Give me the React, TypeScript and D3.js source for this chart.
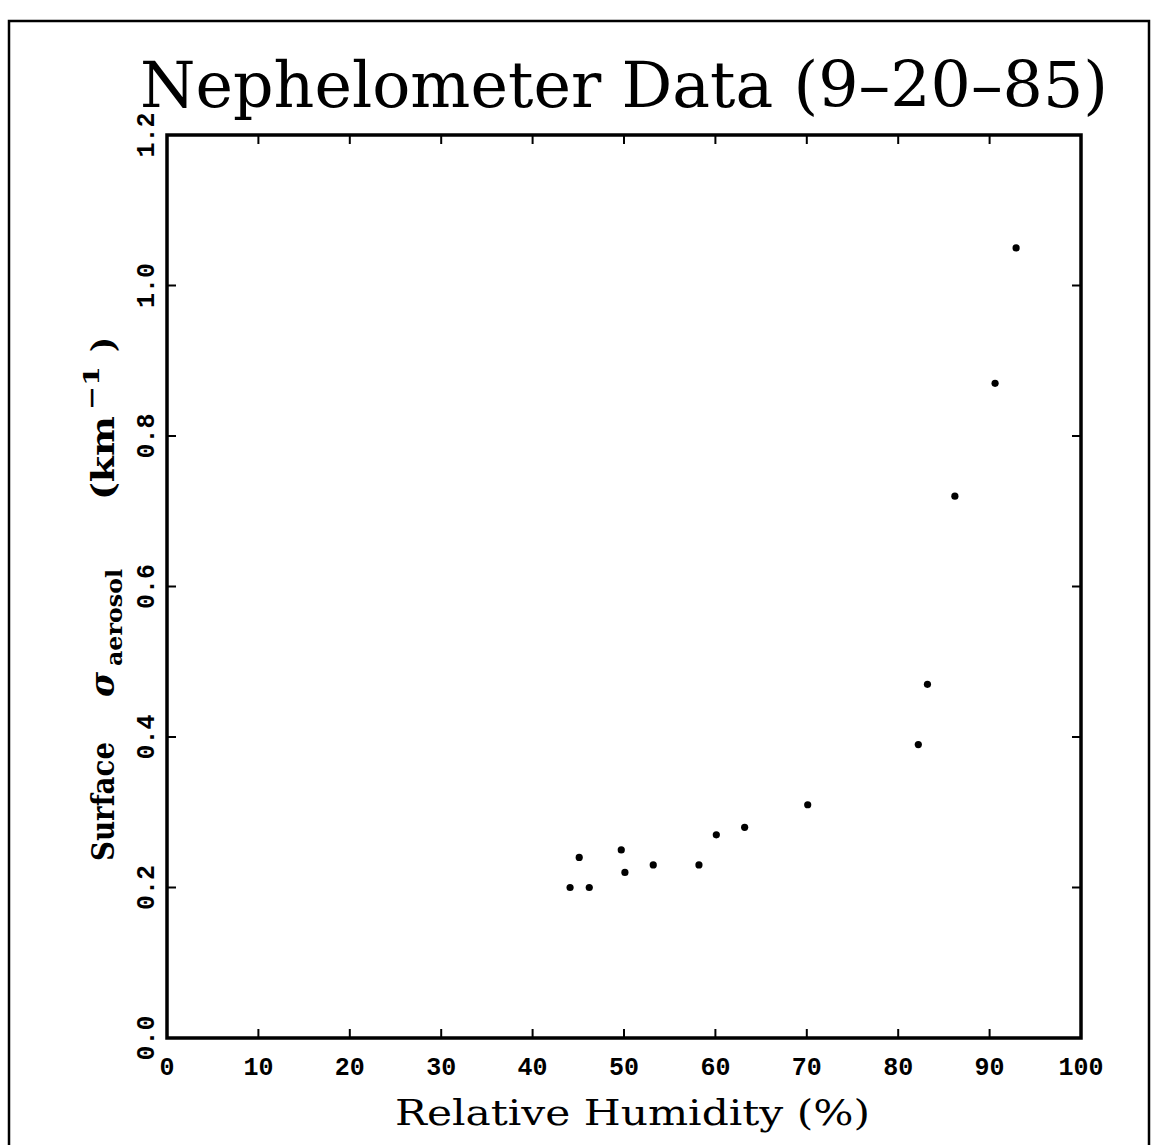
import React from "react";
import * as d3 from "d3";

const humidity = [44.1, 45.1, 46.2, 49.7, 50.1, 53.2, 58.2, 60.1, 63.2, 70.1, 82.2, 83.2, 86.2, 90.6, 92.9];
const sigma = [0.2, 0.24, 0.2, 0.25, 0.22, 0.23, 0.23, 0.27, 0.28, 0.31, 0.39, 0.47, 0.72, 0.87, 1.05];
const xTicks = [0, 10, 20, 30, 40, 50, 60, 70, 80, 90, 100];
const yTicks = [0, 0.2, 0.4, 0.6, 0.8, 1.0, 1.2];
const titleText = "Nephelometer Data (9\u201320\u201385)";
const xLabel = "Relative Humidity (%)";

const W = 1152;
const H = 1145;
const L = 167, R = 1081, T = 135, B = 1038;

export default function App() {
  const x = d3.scaleLinear().domain([0, 100]).range([L, R]);
  const y = d3.scaleLinear().domain([0, 1.2]).range([B, T]);
  const mono = "'Liberation Mono', 'DejaVu Sans Mono', monospace";
  const serif = "'DejaVu Serif', 'Liberation Serif', serif";
  const tickLen = 9;
  const innerX = xTicks.filter((t) => t > 0 && t < 100);
  const innerY = yTicks.filter((t) => t > 0 && t < 1.2);

  return (
    <svg
      width={W}
      height={H}
      style={{ position: "absolute", left: 0, top: 0, background: "#fff" }}
    >
      <rect x={0} y={0} width={W} height={H} fill="#fff" />
      {/* outer border */}
      <path d={`M9,${H} L9,21 L1149,21 L1149,${H}`} fill="none" stroke="#000" strokeWidth={2.5} />

      {/* title */}
      <text
        x={140}
        y={107}
        fontFamily={serif}
        fontSize={64}
        textLength={968}
        lengthAdjust="spacingAndGlyphs"
        fill="#000"
      >
        {titleText}
      </text>

      {/* frame */}
      <rect x={L} y={T} width={R - L} height={B - T} fill="none" stroke="#000" strokeWidth={3.5} />

      {/* ticks */}
      {innerX.map((t) => (
        <g key={"xt" + t}>
          <line x1={x(t)} x2={x(t)} y1={B} y2={B - tickLen} stroke="#000" strokeWidth={2} />
          <line x1={x(t)} x2={x(t)} y1={T} y2={T + tickLen} stroke="#000" strokeWidth={2} />
        </g>
      ))}
      {innerY.map((t) => (
        <g key={"yt" + t}>
          <line x1={L} x2={L + tickLen} y1={y(t)} y2={y(t)} stroke="#000" strokeWidth={2} />
          <line x1={R} x2={R - tickLen} y1={y(t)} y2={y(t)} stroke="#000" strokeWidth={2} />
        </g>
      ))}

      {/* x tick labels */}
      {xTicks.map((t) => (
        <text
          key={"xl" + t}
          x={x(t)}
          y={1075}
          textAnchor="middle"
          fontFamily={mono}
          fontWeight="bold"
          fontSize={25}
          fill="#000"
        >
          {String(t)}
        </text>
      ))}

      {/* y tick labels */}
      {yTicks.map((t) => (
        <text
          key={"yl" + t}
          transform={`translate(154,${y(t)}) rotate(-90)`}
          textAnchor="middle"
          fontFamily={mono}
          fontWeight="bold"
          fontSize={25}
          fill="#000"
        >
          {t.toFixed(1)}
        </text>
      ))}

      {/* x axis label */}
      <text
        x={395}
        y={1125}
        fontFamily={serif}
        fontSize={36}
        textLength={475}
        lengthAdjust="spacingAndGlyphs"
        fill="#000"
      >
        {xLabel}
      </text>

      {/* y axis label */}
      <g transform="translate(114,0) rotate(-90)" fontFamily={serif} fontWeight="bold" fill="#000">
        <text x={-861} y={0} fontSize={32} textLength={119} lengthAdjust="spacingAndGlyphs">
          Surface
        </text>
        <text x={-697} y={0} fontSize={34} fontStyle="italic">
          σ
        </text>
        <text x={-666} y={8} fontSize={22} textLength={97} lengthAdjust="spacingAndGlyphs">
          aerosol
        </text>
        <text x={-500} y={0} fontSize={32} textLength={84} lengthAdjust="spacingAndGlyphs">
          (km
        </text>
        <text x={-410} y={-15} fontSize={22} textLength={44} lengthAdjust="spacingAndGlyphs">
          −1
        </text>
        <text x={-352} y={0} fontSize={32}>
          )
        </text>
      </g>

      {/* data points */}
      {humidity.map((h, i) => (
        <circle key={"p" + i} cx={x(h)} cy={y(sigma[i])} r={3.6} fill="#000" />
      ))}
    </svg>
  );
}
